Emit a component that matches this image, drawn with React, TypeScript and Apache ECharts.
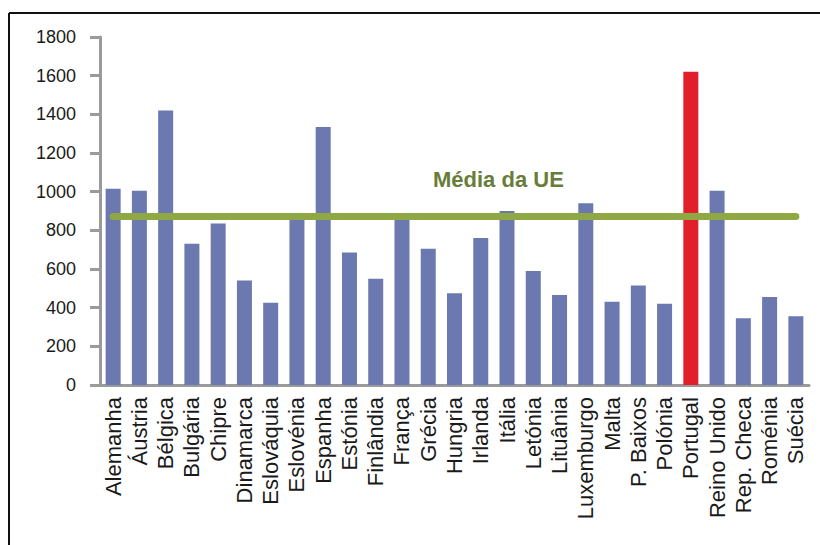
import React, { useEffect, useRef } from "react";
import * as echarts from "echarts";

const categories = [
  "Alemanha", "Áustria", "Bélgica", "Bulgária", "Chipre", "Dinamarca", "Eslováquia",
  "Eslovénia", "Espanha", "Estónia", "Finlândia", "França", "Grécia", "Hungria",
  "Irlanda", "Itália", "Letónia", "Lituânia", "Luxemburgo", "Malta", "P. Baixos",
  "Polónia", "Portugal", "Reino Unido", "Rep. Checa", "Roménia", "Suécia",
];
const values = [
  1015, 1005, 1420, 730, 835, 540, 425,
  870, 1335, 685, 550, 870, 705, 475,
  760, 900, 590, 465, 940, 430, 515,
  420, 1620, 1005, 345, 455, 355,
];
const highlighted = "Portugal";
const euAverage = 872;
const euLabel = "Média da UE";
const yTicks = { min: 0, max: 1800, interval: 200 };

const FONT = "'Liberation Sans', Arial, sans-serif";

export default function App() {
  const ref = useRef<HTMLDivElement>(null);
  useEffect(() => {
    if (!ref.current) return;
    const chart = echarts.init(ref.current, null, { renderer: "svg" });
    chart.setOption({
      animation: false,
      backgroundColor: "#ffffff",
      grid: { left: 100, right: 11, top: 37, bottom: 160, containLabel: false },
      xAxis: {
        type: "category",
        data: categories,
        axisLine: { lineStyle: { color: "#9a9a9a", width: 3 } },
        axisTick: { show: false },
        axisLabel: {
          interval: 0,
          rotate: 90,
          margin: 12,
          fontSize: 22,
          fontFamily: FONT,
          color: "#1a1a1a",
        },
      },
      yAxis: {
        type: "value",
        min: yTicks.min,
        max: yTicks.max,
        interval: yTicks.interval,
        splitLine: { show: false },
        axisLine: { show: true, lineStyle: { color: "#9a9a9a", width: 3 } },
        axisTick: { show: true, length: 10, lineStyle: { color: "#9a9a9a", width: 3 } },
        axisLabel: {
          margin: 24,
          fontSize: 18,
          fontFamily: FONT,
          color: "#1a1a1a",
          formatter: (v: number) => String(v),
        },
      },
      series: [
        {
          type: "bar",
          barWidth: 15,
          data: values.map((v, i) => ({
            value: v,
            itemStyle: { color: categories[i] === highlighted ? "#e01f2b" : "#6b79b0" },
          })),
          markLine: {
            silent: true,
            symbol: "none",
            label: { show: false },
            lineStyle: { color: "#8fa843", width: 7, type: "solid", cap: "round" },
            data: [
              [
                { coord: [0, euAverage] },
                { coord: [categories.length - 1, euAverage] },
              ],
            ],
          },
        },
      ],
      graphic: [
        {
          type: "line",
          shape: { x1: 9, y1: 13, x2: 820, y2: 13 },
          style: { stroke: "#111", lineWidth: 2 },
        },
        {
          type: "line",
          shape: { x1: 9, y1: 13, x2: 9, y2: 545 },
          style: { stroke: "#111", lineWidth: 2 },
        },
        {
          type: "text",
          x: 433,
          y: 168,
          style: {
            text: euLabel,
            font: `bold 22px ${FONT}`,
            fill: "#687d39",
          },
        },
      ],
    });
    return () => chart.dispose();
  }, []);
  return <div ref={ref} style={{ width: 820, height: 545, position: "absolute", left: 0, top: 0 }} />;
}
